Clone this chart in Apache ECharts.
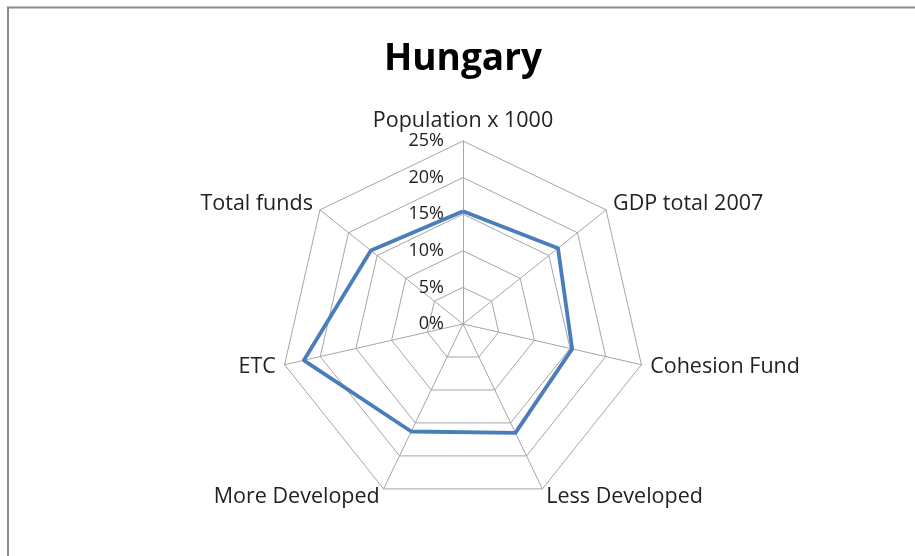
<!DOCTYPE html>
<html>
<head>
<meta charset="utf-8">
<script src="https://cdn.jsdelivr.net/npm/echarts@6/dist/echarts.min.js"></script>
<style>
html,body{margin:0;padding:0;background:#fff;}
#chart{width:915px;height:556px;}
</style>
</head>
<body>
<div id="chart"></div>
<script>
// Categories in clockwise order starting from the top
var categories = ['Population x 1000', 'GDP total 2007', 'Cohesion Fund', 'Less Developed', 'More Developed', 'ETC', 'Total funds'];
// Hungary share (%) per category, same order
var hungaryValues = [15.4, 16.6, 15.3, 16.5, 16.3, 22.3, 16.1];
var axisMin = 0;
var axisMax = 25;
var axisStep = 5;
var titleText = 'Hungary';

// ECharts places radar indicators counter-clockwise; reorder to get clockwise layout
function toCCW(arr) {
  return [arr[0]].concat(arr.slice(1).reverse());
}
var indCats = toCCW(categories);
var indVals = toCCW(hungaryValues);

var indicators = indCats.map(function (c, i) {
  var o = { name: c, min: axisMin, max: axisMax };
  if (i === 0) {
    o.axisLabel = {
      show: true,
      formatter: function (v) { return v + '%'; },
      color: '#222',
      fontSize: 18,
      fontFamily: 'Open Sans',
      margin: 19
    };
  }
  return o;
});

var chart = echarts.init(document.getElementById('chart'), null, { renderer: 'canvas' });
chart.setOption({
  animation: false,
  backgroundColor: '#fff',
  title: {
    text: titleText,
    left: 458,
    textAlign: 'center',
    top: 36,
    textStyle: { fontFamily: 'Open Sans', fontWeight: 'bold', fontSize: 37, color: '#000' }
  },
  graphic: [{
    type: 'rect',
    shape: { x: 8, y: 7.5, width: 940, height: 600 },
    style: { fill: 'none', stroke: '#8a8a8a', lineWidth: 2 },
    silent: true
  }],
  radar: {
    center: [463, 324],
    radius: 183,
    startAngle: 90,
    splitNumber: (axisMax - axisMin) / axisStep,
    shape: 'polygon',
    nameGap: 9,
    axisName: { color: '#222', fontSize: 21.5, fontFamily: 'Open Sans' },
    axisLine: { lineStyle: { color: '#a6a6a6', width: 1 } },
    splitLine: { lineStyle: { color: '#a6a6a6', width: 1 } },
    splitArea: { show: false },
    axisTick: { show: false },
    axisLabel: { show: false },
    indicator: indicators
  },
  series: [{
    type: 'radar',
    symbol: 'none',
    lineStyle: { color: '#4a7ebb', width: 3.8 },
    data: [{ name: titleText, value: indVals }]
  }]
});
</script>
</body>
</html>
